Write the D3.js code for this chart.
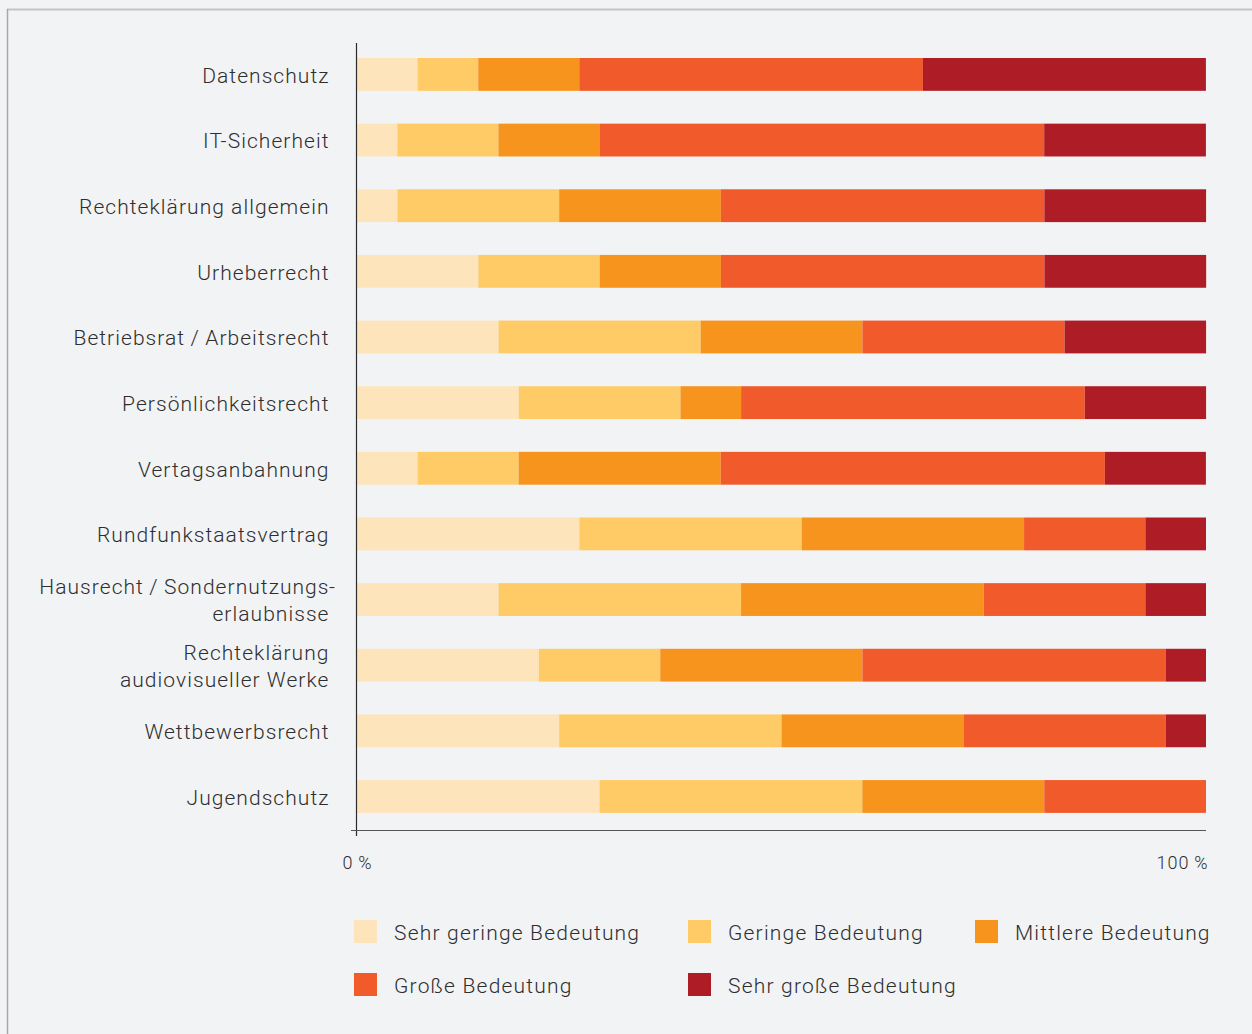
<!DOCTYPE html>
<html lang="de">
<head>
<meta charset="utf-8">
<script src="https://cdn.jsdelivr.net/npm/d3@7"></script>
<style>
  html, body { margin: 0; padding: 0; background: #f2f3f5; }
  svg { display: block; }
  text { font-family: Roboto, "Noto Sans", sans-serif; font-weight: 300; fill: #2e2e2e; letter-spacing: 1.2px; }
</style>
</head>
<body>
<svg id="chart" width="1252" height="1034"></svg>
<script>
// Rechtsthemen und ihre Bedeutung (Anteile in Prozent)
const categories = [
  ["Datenschutz"],
  ["IT-Sicherheit"],
  ["Rechteklärung allgemein"],
  ["Urheberrecht"],
  ["Betriebsrat\u2009/\u2009Arbeitsrecht"],
  ["Persönlichkeitsrecht"],
  ["Vertagsanbahnung"],
  ["Rundfunkstaatsvertrag"],
  ["Hausrecht\u2009/\u2009Sondernutzungs-", "erlaubnisse"],
  ["Rechteklärung", "audiovisueller Werke"],
  ["Wettbewerbsrecht"],
  ["Jugendschutz"]
];

const seriesNames = [
  "Sehr geringe Bedeutung",
  "Geringe Bedeutung",
  "Mittlere Bedeutung",
  "Große Bedeutung",
  "Sehr große Bedeutung"
];

const sehrGering = [7.14, 4.76, 4.76, 14.29, 16.67, 19.05, 7.14, 26.19, 16.67, 21.43, 23.81, 28.57];
const gering     = [7.14, 11.90, 19.05, 14.29, 23.81, 19.05, 11.90, 26.19, 28.57, 14.29, 26.19, 30.95];
const mittel     = [11.90, 11.90, 19.05, 14.29, 19.05, 7.14, 23.81, 26.19, 28.57, 23.81, 21.43, 21.43];
const gross      = [40.48, 52.38, 38.10, 38.10, 23.81, 40.48, 45.24, 14.29, 19.05, 35.71, 23.81, 19.05];
const sehrGross  = [33.33, 19.05, 19.05, 19.05, 16.67, 14.29, 11.90, 7.14, 7.14, 4.76, 4.76, 0];

const tickLabels = ["0\u2009%", "100\u2009%"];

const colors = ["#fee4bb", "#fecb67", "#f7941e", "#f15a2b", "#ae1d26"];

const seriesValues = [sehrGering, gering, mittel, gross, sehrGross];
const table = categories.map((c, i) => {
  const row = { key: c.join(" ") };
  seriesNames.forEach((s, j) => { row[s] = seriesValues[j][i]; });
  return row;
});

const svg = d3.select("#chart");

// Rahmen
svg.append("rect").attr("x", 0).attr("y", 0).attr("width", 1252).attr("height", 1034).attr("fill", "#f2f3f5");
svg.append("line").attr("x1", 7).attr("x2", 1252).attr("y1", 9.5).attr("y2", 9.5)
  .attr("stroke", "#c4c4c6").attr("stroke-width", 2);
svg.append("line").attr("x1", 7.5).attr("x2", 7.5).attr("y1", 9).attr("y2", 1034)
  .attr("stroke", "#a9a9ab").attr("stroke-width", 1.5);

const x = d3.scaleLinear().domain([0, 100]).range([357, 1206]);
const y = d3.scaleBand()
  .domain(table.map(d => d.key))
  .range([41.6, 829.3])
  .paddingInner(0.5)
  .paddingOuter(0.25);

const stack = d3.stack().keys(seriesNames);
const layers = stack(table);

svg.append("g")
  .selectAll("g")
  .data(layers)
  .join("g")
  .attr("fill", (d, i) => colors[i])
  .selectAll("rect")
  .data(d => d)
  .join("rect")
  .attr("x", d => x(d[0]))
  .attr("y", d => y(d.data.key))
  .attr("width", d => x(d[1]) - x(d[0]))
  .attr("height", y.bandwidth());

// Kategorienbeschriftung
const labelX = 329.5;
const lineH = 27;
const labels = svg.append("g").attr("font-size", 21).style("letter-spacing", "1.05px");
categories.forEach((lines, i) => {
  const cy = y(table[i].key) + y.bandwidth() / 2;
  const y0 = cy - (lines.length - 1) * lineH / 2;
  lines.forEach((ln, k) => {
    const hang = ln.endsWith("-");
    const txt = hang ? ln.slice(0, -1) : ln;
    labels.append("text")
      .attr("x", labelX)
      .attr("y", y0 + k * lineH)
      .attr("dy", "0.4em")
      .attr("text-anchor", "end")
      .style("letter-spacing", "1.05px")
      .text(txt);
    if (hang) {
      labels.append("text")
        .attr("x", labelX - 0.5)
        .attr("y", y0 + k * lineH)
        .attr("dy", "0.4em")
        .attr("text-anchor", "start")
        .text("-");
    }
  });
});

// Achsen
svg.append("line")
  .attr("x1", x(0) - 0.5).attr("x2", x(0) - 0.5)
  .attr("y1", 43).attr("y2", 836)
  .attr("stroke", "#2b2b2b").attr("stroke-width", 1.2);
svg.append("line")
  .attr("x1", 351).attr("x2", x(100))
  .attr("y1", 830.5).attr("y2", 830.5)
  .attr("stroke", "#555").attr("stroke-width", 1.2);

const xAxis = d3.axisBottom(x).tickValues([0, 100]).tickFormat((d, i) => tickLabels[i]).tickSize(0);
const axG = svg.append("g").attr("transform", "translate(0,853)").call(xAxis);
axG.select(".domain").remove();
axG.selectAll("text")
  .attr("font-size", 18)
  .attr("font-family", "Roboto, sans-serif")
  .attr("fill", "#3a3a3a")
  .style("letter-spacing", "1px")
  .attr("text-anchor", (d, i) => i === 0 ? "middle" : "end")
  .attr("dx", (d, i) => i === 0 ? 0 : 2);

// Legende
const legendPos = [
  [354, 920], [688, 920], [975, 920],
  [354, 973], [688, 973]
];
const lg = svg.append("g");
seriesNames.forEach((s, i) => {
  const [lx, ly] = legendPos[i];
  lg.append("rect").attr("x", lx).attr("y", ly).attr("width", 23).attr("height", 23).attr("fill", colors[i]);
  lg.append("text")
    .attr("x", lx + 40)
    .attr("y", ly + 12)
    .attr("dy", "0.4em")
    .attr("font-size", 21)
    .text(s);
});
</script>
</body>
</html>
